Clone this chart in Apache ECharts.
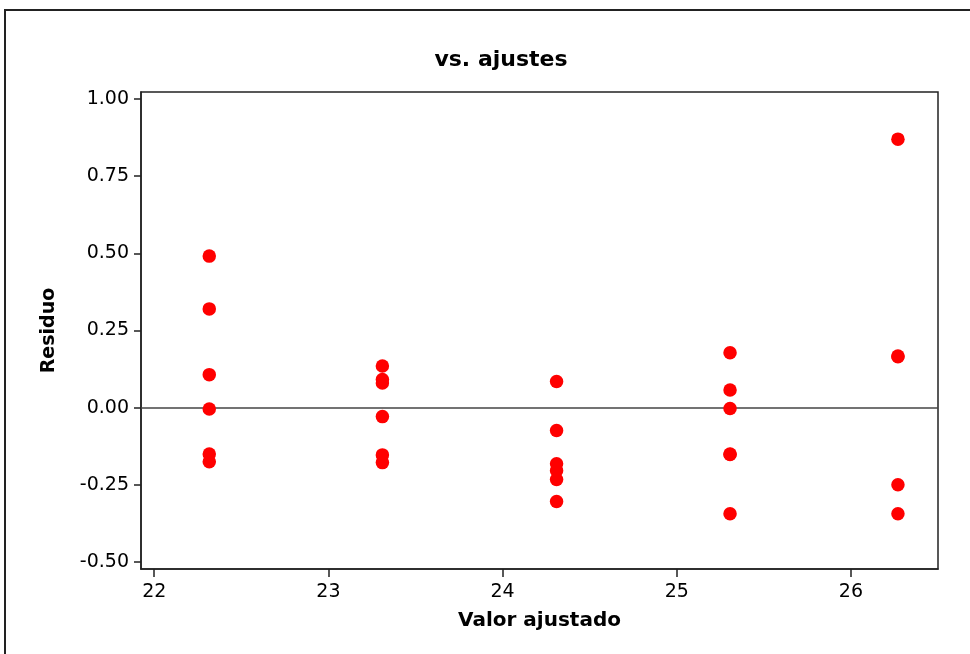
<!DOCTYPE html>
<html><head><meta charset="utf-8">
<script src="https://cdn.jsdelivr.net/npm/echarts@6/dist/echarts.min.js"></script>
<style>html,body{margin:0;padding:0;background:#fff}#c{width:970px;height:654px}</style>
</head><body><div id="c"></div>
<script>
const fittedValues = [22.316, 23.31, 24.31, 25.306, 26.27];
const residualsByGroup = [
  [0.491, 0.320, 0.107, -0.004, -0.150, -0.175],
  [0.135, 0.091, 0.080, -0.029, -0.153, -0.178],
  [0.085, -0.074, -0.182, -0.204, -0.233, -0.304],
  [0.178, 0.057, -0.003, -0.150, -0.152, -0.344],
  [0.870, 0.167, 0.165, -0.250, -0.344]
];
const xTicks = [22, 23, 24, 25, 26];
const yTicks = [-0.5, -0.25, 0, 0.25, 0.5, 0.75, 1.0];

const pts = [];
fittedValues.forEach((fx, i) => residualsByGroup[i].forEach(r => pts.push([fx, r])));

const font = 'DejaVu Sans, Verdana, sans-serif';
const chart = echarts.init(document.getElementById('c'), null, {renderer: 'canvas'});
chart.setOption({
  animation: false,
  backgroundColor: '#fff',
  title: {
    text: 'vs. ajustes', left: 496, textAlign: 'center', top: 44,
    textStyle: {fontFamily: font, fontSize: 22, fontWeight: 'bold', color: '#000'}
  },
  graphic: [{
    type: 'rect', shape: {x: 5, y: 10, width: 1100, height: 800},
    style: {fill: 'none', stroke: '#222', lineWidth: 2}, silent: true
  }],
  grid: {left: 141, top: 92, right: 32, bottom: 85, show: true, borderColor: '#222', borderWidth: 1.5, backgroundColor: '#fff'},
  xAxis: {
    type: 'value', min: 21.924, max: 26.5,
    name: 'Valor ajustado', nameLocation: 'middle', nameGap: 42,
    nameTextStyle: {fontFamily: font, fontSize: 20, fontWeight: 'bold', color: '#000'},
    axisLine: {show: true, onZero: false, lineStyle: {color: '#222', width: 1.5}},
    axisTick: {show: true, length: 8, lineStyle: {color: '#222', width: 1.5},
      customValues: xTicks},
    axisLabel: {fontFamily: font, fontSize: 19, color: '#000', margin: 14,
      customValues: xTicks, formatter: v => String(Math.round(v))},
    splitLine: {show: false}
  },
  yAxis: {
    type: 'value', min: -0.5227, max: 1.0227,
    name: 'Residuo', nameLocation: 'middle', nameGap: 82, nameRotate: 90,
    nameTextStyle: {fontFamily: font, fontSize: 19, fontWeight: 'bold', color: '#000'},
    axisLine: {show: true, onZero: false, lineStyle: {color: '#222', width: 1.5}},
    axisTick: {show: true, length: 7, lineStyle: {color: '#222', width: 1.5},
      customValues: yTicks},
    axisLabel: {fontFamily: font, fontSize: 19, color: '#000', margin: 12,
      customValues: yTicks, formatter: v => v.toFixed(2)},
    splitLine: {show: false}
  },
  series: [{
    type: 'scatter', data: pts, symbol: 'circle', symbolSize: 13.5,
    itemStyle: {color: '#ff0000', opacity: 1},
    z: 3,
    markLine: {
      silent: true, symbol: ['none', 'none'], label: {show: false},
      lineStyle: {color: '#444', width: 1.5, type: 'solid'},
      data: [{yAxis: 0}], z: 2
    }
  }]
});
</script></body></html>
